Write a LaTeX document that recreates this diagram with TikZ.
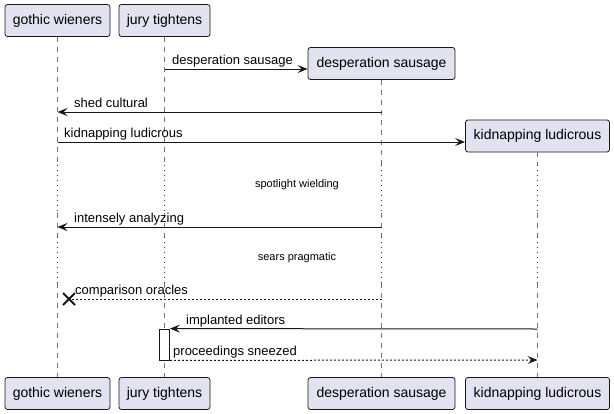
\documentclass[tikz,border=0pt]{standalone}
\usepackage{fontspec}
\setmainfont{Liberation Sans}
\usetikzlibrary{arrows.meta}
\definecolor{pbox}{HTML}{E2E2F0}
\definecolor{pline}{HTML}{181818}
\definecolor{delayc}{HTML}{A80036}
\begin{document}
\begin{tikzpicture}[x=1pt,y=-1pt,
  part/.style={draw=pline, fill=pbox, rounded corners=2.5pt, line width=0.8pt, minimum height=32pt, inner sep=0pt, font=\fontsize{14}{16}\selectfont},
  life/.style={draw=pline!60, line width=0.6pt, dash pattern=on 5pt off 5pt},
  delayline/.style={draw=delayc, line width=1pt, dash pattern=on 1pt off 4pt},
  msg/.style={draw=pline, line width=1pt, -{Stealth[length=10pt,width=8pt,inset=4pt]}},
  ret/.style={msg, dash pattern=on 2pt off 2pt},
  lbl/.style={anchor=base west, inner sep=0pt, font=\fontsize{13}{15}\selectfont},
  dlbl/.style={inner sep=0pt, font=\fontsize{11}{13}\selectfont}]
\useasboundingbox (0,0) rectangle (614,413);
% participants (top)
\node[part, minimum width=105pt] (gw) at (57.5,20.5) {gothic wieners};
\node[part, minimum width=91pt] (jt) at (164.5,20.5) {jury tightens};
\node[part, minimum width=147pt] (ds) at (381.5,63.5) {desperation sausage};
\node[part, minimum width=144pt] (kl) at (537.5,136) {kidnapping ludicrous};
% participants (bottom)
\node[part, minimum width=105pt] (bgw) at (57.5,393.5) {gothic wieners};
\node[part, minimum width=91pt] (bjt) at (164.5,393.5) {jury tightens};
\node[part, minimum width=147pt] (bds) at (381.5,393.5) {desperation sausage};
\node[part, minimum width=144pt] (bkl) at (537.5,393.5) {kidnapping ludicrous};
% delay bounds
\coordinate (d1s) at (0,165);
\coordinate (d1e) at (0,213);
\coordinate (d2s) at (0,237);
\coordinate (d2e) at (0,283);
% lifelines
\foreach \p in {gw,jt,ds,kl} {
  \draw[life] (\p.south) -- (\p.south |- d1s);
  \draw[delayline] (\p.south |- d1s) -- (\p.south |- d1e);
  \draw[life] (\p.south |- d1e) -- (\p.south |- d2s);
  \draw[delayline] (\p.south |- d2s) -- (\p.south |- d2e);
  \draw[life] (\p.south |- d2e) -- (b\p.north);
}
% message rows
\coordinate (y1) at (0,69);
\coordinate (y2) at (0,112);
\coordinate (y3) at (0,142);
\coordinate (y4) at (0,227);
\coordinate (y5) at (0,299);
\coordinate (y6) at (0,329);
\coordinate (y7) at (0,360);
% activation
\node[draw=pline, fill=white, line width=0.8pt, minimum width=10pt, minimum height=31pt, inner sep=0pt] (act) at (164.5,344.5) {};
% destroy mark
\coordinate (xd) at (69,299);
% messages
\draw[msg] (jt.south |- y1) -- (ds.west |- y1);
\node[lbl] (l1) at (172,64) {desperation sausage};
\draw[msg] (ds.south |- y2) -- (gw.south |- y2);
\node[lbl] (l2) at (74,107) {shed cultural};
\draw[msg] (gw.south |- y3) -- (kl.west |- y3);
\node[lbl] (l3) at (64,137) {kidnapping ludicrous};
\node[dlbl] (dl1) at (297,185) {spotlight wielding};
\draw[msg] (ds.south |- y4) -- (gw.south |- y4);
\node[lbl] (l4) at (74,222) {intensely analyzing};
\node[dlbl] (dl2) at (297,258) {sears pragmatic};
\draw[draw=pline, line width=1pt, dash pattern=on 2pt off 2pt] (ds.south |- y5) -- (xd);
\draw[draw=pline, line width=1.8pt] ([shift={(-6,-6)}]xd) -- ([shift={(6,6)}]xd);
\draw[draw=pline, line width=1.8pt] ([shift={(-6,6)}]xd) -- ([shift={(6,-6)}]xd);
\node[lbl] (l5) at (75,294) {comparison oracles};
\draw[msg] (kl.south |- y6) -- (act.north east);
\node[lbl] (l6) at (186,324) {implanted editors};
\draw[ret] (act.south east) -- (kl.south |- y7);
\node[lbl] (l7) at (173,355) {proceedings sneezed};
\end{tikzpicture}
\end{document}
